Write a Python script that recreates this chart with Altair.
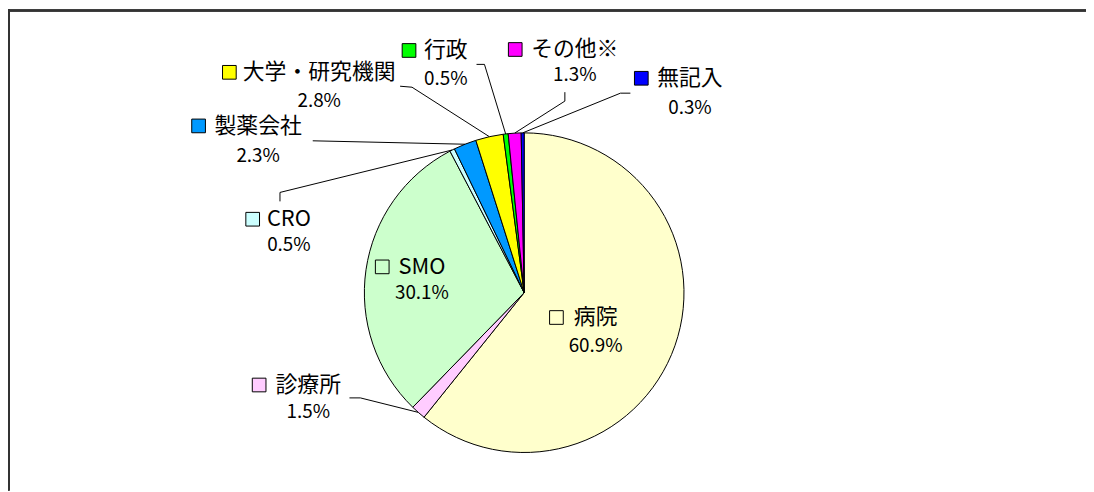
import math
import altair as alt
import pandas as pd

# ---------------- data ----------------
categories = ["病院", "診療所", "SMO", "CRO", "製薬会社", "大学・研究機関", "行政", "その他※", "無記入"]
shares = [60.9, 1.5, 30.1, 0.5, 2.3, 2.8, 0.5, 1.3, 0.3]
pct_text = ["60.9%", "1.5%", "30.1%", "0.5%", "2.3%", "2.8%", "0.5%", "1.3%", "0.3%"]
colors = ["#FFFFCC", "#FFCCFF", "#CCFFCC", "#CCFFFF", "#0099FF",
          "#FFFF00", "#00FF00", "#FF00FF", "#0000FF"]

# ---------------- layout (page pixels) ----------------
W, H = 1086, 484
OX, OY = 8, 8
CX, CY, R = 528, 293, 161
FONT = "Noto Sans CJK JP"

name_x = [600, 310.5, 425, 291, 260, 321.5, 449, 579, 695]
name_y = [318, 386, 267, 219, 125, 71, 49, 48, 77]
pct_y = [347, 413, 293, 245, 155, 100, 78, 74, 107]
key_x = [560.5, 261, 385, 254.5, 200, 231, 412, 519, 646]
# leader lines: (elbow, end) for labels placed outside the pie
leader = {
    "診療所": ((363, 399), (352, 399)),
    "CRO": ((282, 192), (282, 201)),
    "製薬会社": ((315, 140), (315, 140)),
    "大学・研究機関": ((415, 86), (403, 85)),
    "行政": ((488, 63), (480, 63)),
    "その他※": ((569, 100), (569, 91)),
    "無記入": ((625, 92), (635, 92)),
}

df = pd.DataFrame({
    "idx": list(range(len(categories))),
    "name": categories,
    "share": shares,
    "pct": pct_text,
    "color": colors,
    "nx": name_x,
    "ny": name_y,
    "py": pct_y,
    "kx": key_x,
})

# leader line points: first point on the pie edge at slice mid-angle
total = sum(shares)
rows = []
cum = 0.0
for name, s in zip(categories, shares):
    mid = (cum + s / 2) / total * 2 * math.pi
    cum += s
    if name in leader:
        ex = CX + R * math.sin(mid)
        ey = CY - R * math.cos(mid)
        (bx, by), (tx, ty) = leader[name]
        for k, (px, py) in enumerate([(ex, ey), (bx, by), (tx, ty)]):
            rows.append({"name": name, "k": k, "x": px, "y": py})
lines_df = pd.DataFrame(rows)

xs = alt.Scale(domain=[OX, OX + W], range=[0, W])
ys = alt.Scale(domain=[OY, OY + H], range=[0, H])

pie = alt.Chart(df).mark_arc(radius=R, stroke="#000000", strokeWidth=1).encode(
    theta=alt.Theta("share:Q", stack=True),
    order=alt.Order("idx:Q", sort="ascending"),
    fill=alt.Fill("color:N", scale=None),
    x=alt.value(CX - OX),
    y=alt.value(CY - OY),
)

leaders = alt.Chart(lines_df).mark_line(color="#000000", strokeWidth=1).encode(
    x=alt.X("x:Q", scale=xs, axis=None),
    y=alt.Y("y:Q", scale=ys, axis=None),
    detail="name:N",
    order="k:Q",
)

keys = alt.Chart(df).mark_point(shape="square", filled=True, size=190,
                                stroke="#000000", strokeWidth=1, opacity=1).encode(
    x=alt.X("kx:Q", scale=xs, axis=None),
    y=alt.Y("ny:Q", scale=ys, axis=None),
    fill=alt.Fill("color:N", scale=None),
)

names = alt.Chart(df).mark_text(font=FONT, fontSize=22, align="center",
                                baseline="middle", color="#000000").encode(
    x=alt.X("nx:Q", scale=xs, axis=None),
    y=alt.Y("ny:Q", scale=ys, axis=None),
    text="name:N",
)

pcts = alt.Chart(df).mark_text(font=FONT, fontSize=19, align="center",
                               baseline="middle", color="#000000").encode(
    x=alt.X("nx:Q", scale=xs, axis=None),
    y=alt.Y("py:Q", scale=ys, axis=None),
    text="pct:N",
)

frame_top = alt.Chart(df).mark_rule(color="#333333", strokeWidth=1.5).encode(
    x=alt.value(0), x2=alt.value(W), y=alt.value(0.8)
)
frame_left = alt.Chart(df).mark_rule(color="#333333", strokeWidth=1.5).encode(
    x=alt.value(0.8), y=alt.value(0), y2=alt.value(H)
)

chart = alt.layer(pie, leaders, keys, names, pcts, frame_top, frame_left).properties(
    width=W, height=H,
    autosize=alt.AutoSizeParams(type="none"),
    padding=0,
).configure_view(strokeWidth=0)

chart.save("out.html", embed_options={"renderer": "svg", "actions": False})
